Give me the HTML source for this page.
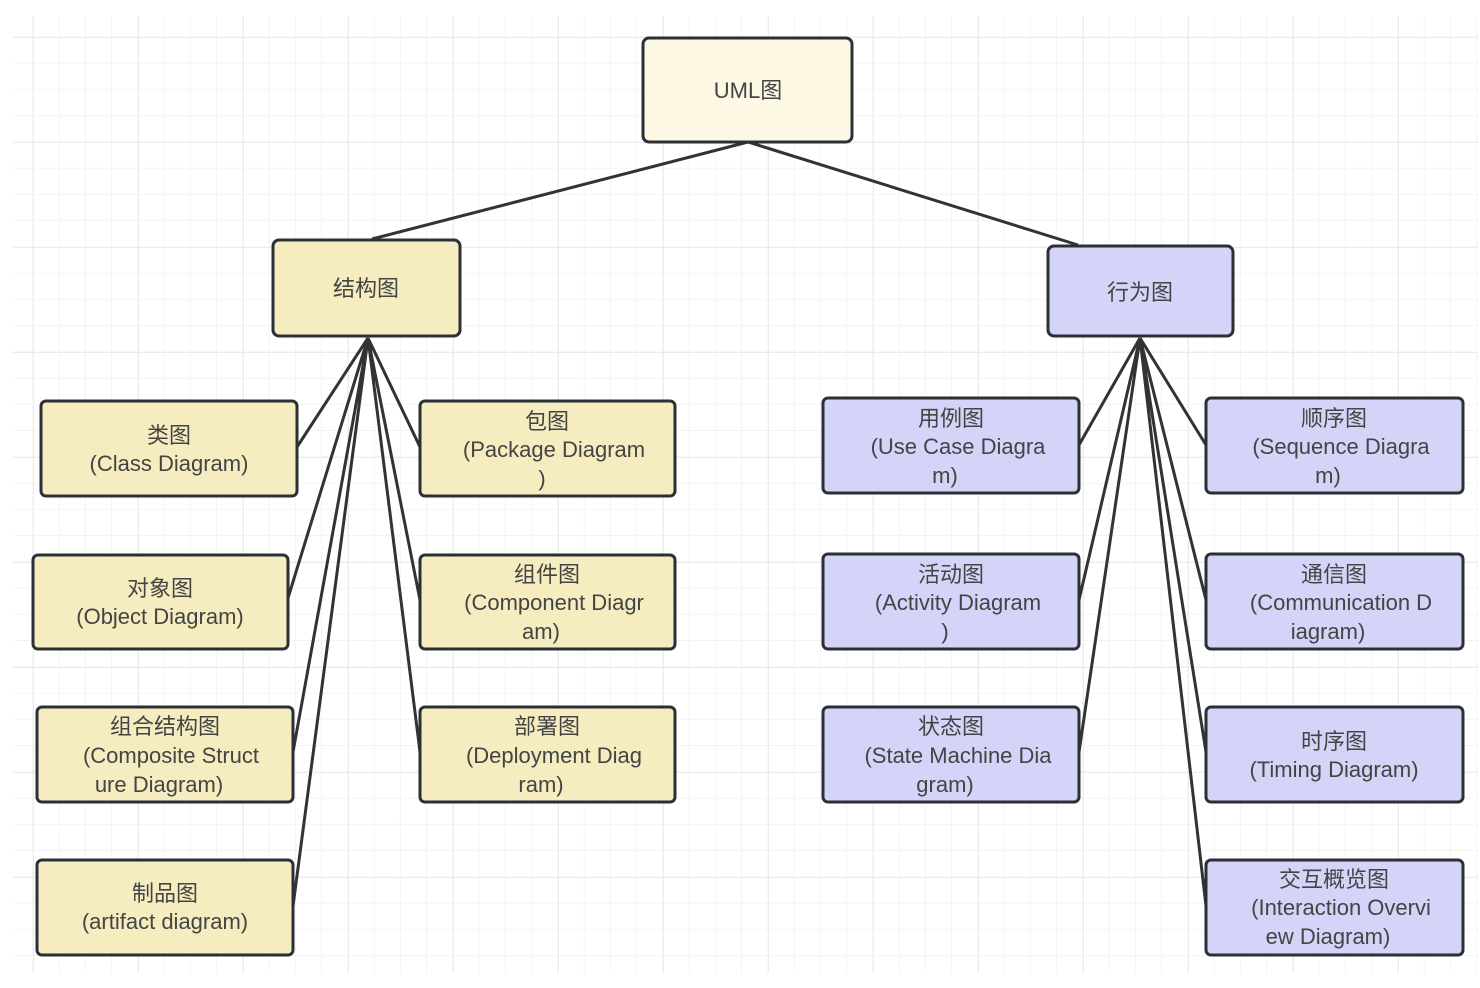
<!DOCTYPE html>
<html><head><meta charset="utf-8"><style>
html,body{margin:0;padding:0;background:#fff;width:1480px;height:988px;overflow:hidden}
svg text{font-family:"Liberation Sans","Noto Sans CJK SC",sans-serif;font-size:22px;fill:#444;text-anchor:middle}
</style></head><body>
<svg width="1480" height="988" viewBox="0 0 1480 988" xmlns="http://www.w3.org/2000/svg">
<defs>
<pattern id="minor" x="7" y="11" width="26.25" height="26.25" patternUnits="userSpaceOnUse">
<path d="M26.25 0V26.25M0 26.25H26.25" stroke="#f1f1f1" stroke-width="1.5" fill="none"/>
</pattern>
<pattern id="major" x="33" y="37" width="105" height="105" patternUnits="userSpaceOnUse">
<path d="M0 0V105M0 0H105" stroke="#e6e6e6" stroke-width="1.5" fill="none"/>
</pattern>
</defs>
<rect x="13" y="16" width="1465" height="957" fill="url(#minor)"/>
<rect x="13" y="16" width="1465" height="957" fill="url(#major)"/>
<g stroke="#333" stroke-width="3" fill="none">
<path d="M748 142L372 239M748 142L1078 245"/>
<path d="M368 338L297 447M368 338L288 598M368 338L293 752M368 338L293 906M368 338L420 447M368 338L420 600M368 338L420 752"/>
<path d="M1140 338L1079 445M1140 338L1079 600M1140 338L1079 752M1140 338L1206 445M1140 338L1206 600M1140 338L1206 752M1140 338L1206 906"/>
</g>
<g stroke="#2b3036" stroke-width="3">
<rect x="643" y="38" width="209" height="104" rx="6" fill="#fcf8e4"/>
<rect x="273" y="240" width="187" height="96" rx="6" fill="#f5ecbf"/>
<rect x="1048" y="246" width="185" height="90" rx="6" fill="#d3d4f7"/>
<g fill="#f5ecbf">
<rect x="41" y="401" width="256" height="95" rx="5"/>
<rect x="33" y="555" width="255" height="94" rx="5"/>
<rect x="37" y="707" width="256" height="95" rx="5"/>
<rect x="37" y="860" width="256" height="95" rx="5"/>
<rect x="420" y="401" width="255" height="95" rx="5"/>
<rect x="420" y="555" width="255" height="94" rx="5"/>
<rect x="420" y="707" width="255" height="95" rx="5"/>
</g>
<g fill="#d3d4f7">
<rect x="823" y="398" width="256" height="95" rx="5"/>
<rect x="823" y="554" width="256" height="95" rx="5"/>
<rect x="823" y="707" width="256" height="95" rx="5"/>
<rect x="1206" y="398" width="257" height="95" rx="5"/>
<rect x="1206" y="554" width="257" height="95" rx="5"/>
<rect x="1206" y="707" width="257" height="95" rx="5"/>
<rect x="1206" y="860" width="257" height="95" rx="5"/>
</g>
</g>
<text x="748" y="98">UML图</text>
<text x="366" y="296">结构图</text>
<text x="1140" y="300">行为图</text>
<text x="169" y="443">类图</text><text x="169" y="471">(Class Diagram)</text>
<text x="160" y="596">对象图</text><text x="160" y="624">(Object Diagram)</text>
<text x="165" y="734">组合结构图</text><text x="171" y="763">(Composite Struct</text><text x="159" y="792">ure Diagram)</text>
<text x="165" y="901">制品图</text><text x="165" y="929">(artifact diagram)</text>
<text x="547" y="429">包图</text><text x="554" y="457">(Package Diagram</text><text x="542" y="486">)</text>
<text x="547" y="582">组件图</text><text x="554" y="610">(Component Diagr</text><text x="541" y="639">am)</text>
<text x="547" y="734">部署图</text><text x="554" y="763">(Deployment Diag</text><text x="541" y="792">ram)</text>
<text x="951" y="426">用例图</text><text x="958" y="454">(Use Case Diagra</text><text x="945" y="483">m)</text>
<text x="951" y="582">活动图</text><text x="958" y="610">(Activity Diagram</text><text x="945" y="639">)</text>
<text x="951" y="734">状态图</text><text x="958" y="763">(State Machine Dia</text><text x="945" y="792">gram)</text>
<text x="1334" y="426">顺序图</text><text x="1341" y="454">(Sequence Diagra</text><text x="1328" y="483">m)</text>
<text x="1334" y="582">通信图</text><text x="1341" y="610">(Communication D</text><text x="1328" y="639">iagram)</text>
<text x="1334" y="749">时序图</text><text x="1334" y="777">(Timing Diagram)</text>
<text x="1334" y="887">交互概览图</text><text x="1341" y="915">(Interaction Overvi</text><text x="1328" y="944">ew Diagram)</text>
</svg>
</body></html>
